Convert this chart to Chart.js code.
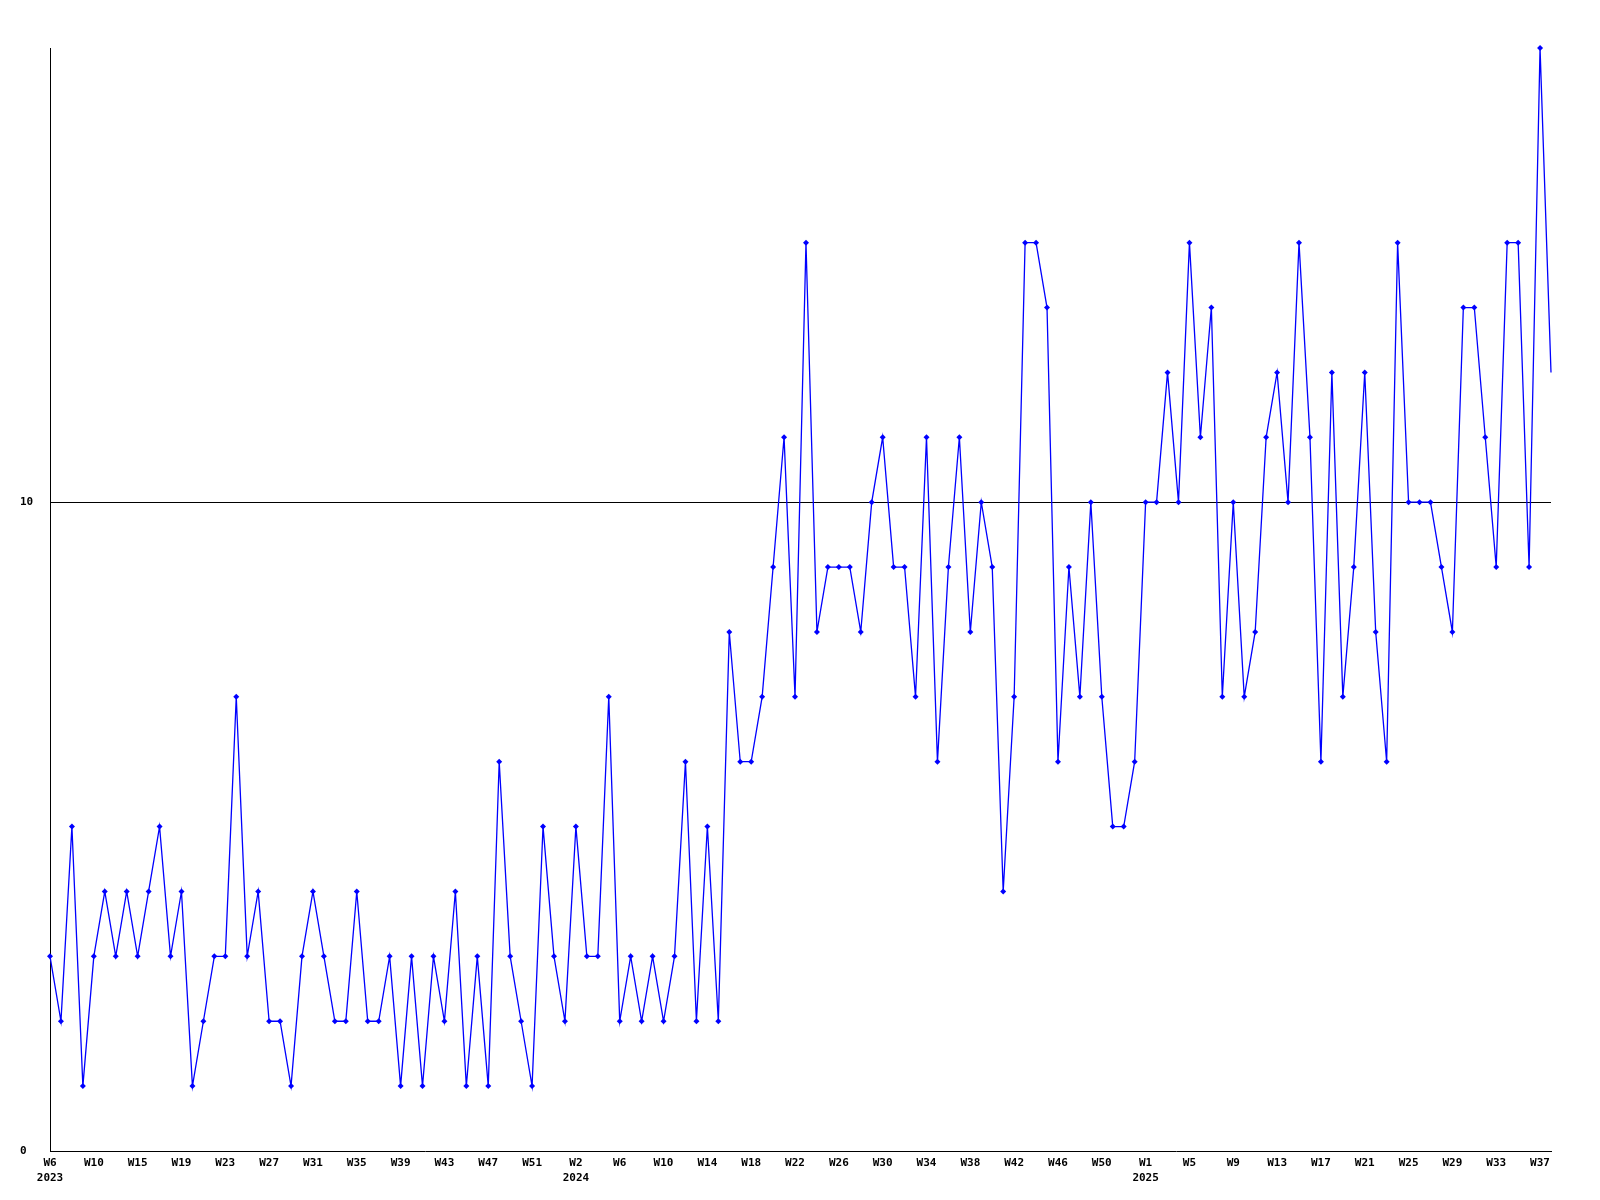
<!DOCTYPE html>
<html>
<head>
<meta charset="utf-8">
<script src="https://cdn.jsdelivr.net/npm/chart.js@4/dist/chart.umd.min.js"></script>
<style>
  html, body { margin: 0; padding: 0; background: #ffffff; }
  #wrap { width: 1600px; height: 1200px; }
</style>
</head>
<body>
<div id="wrap"><canvas id="c" width="1600" height="1200"></canvas></div>
<script>
// ---- data ----
const weeks2023 = ["W6","W7","W8","W9","W10","W12","W13","W14","W15","W16","W17","W18","W19","W20","W21","W22","W23","W24","W25","W26","W27","W28","W29","W30","W31","W32","W33","W34","W35","W36","W37","W38","W39","W40","W41","W42","W43","W44","W45","W46","W47","W48","W49","W50","W51","W52","W53"];
const weeks2024 = ["W1","W2","W3","W4","W5","W6","W7","W8","W9","W10","W11","W12","W13","W14","W15","W16","W17","W18","W19","W20","W21","W22","W23","W24","W25","W26","W27","W28","W29","W30","W31","W32","W33","W34","W35","W36","W37","W38","W39","W40","W41","W42","W43","W44","W45","W46","W47","W48","W49","W50","W51","W52","W53"];
const weeks2025 = ["W1","W2","W3","W4","W5","W6","W7","W8","W9","W10","W11","W12","W13","W14","W15","W16","W17","W18","W19","W20","W21","W22","W23","W24","W25","W26","W27","W28","W29","W30","W31","W32","W33","W34","W35","W36","W37","W38"];

const values2023 = [3,2,5,1,3,4,3,4,3,4, 5,3,4,1,2,3,3,7,3,4, 2,2,1,3,4,3,2,2,4,2, 2,3,1,3,1,3,2,4,1,3, 1,6,3,2,1,5,3];
const values2024 = [2,5,3, 3,7,2,3,2,3,2,3,6,2, 5,2,8,6,6,7,9,11,7,14, 8,9,9,9,8,10,11,9,9,7, 11,6,9,11,8,10,9,4,7,14, 14,13,6,9,7,10,7,5,5,6];
const values2025 = [10,10,12,10,14,11,13,7,10,7, 8,11,12,10,14,11,6,12,7,9, 12,8,6,14,10,10,10,9,8,13, 13,11,9,14,14,9,17,12];

const yTickValues = [0, 10];
const yMin = 0, yMax = 17;
const labelEvery = 4;

// ---- build ----
const labels = weeks2023.concat(weeks2024, weeks2025);
const years = weeks2023.map(() => 2023).concat(weeks2024.map(() => 2024), weeks2025.map(() => 2025));
const values = values2023.concat(values2024, values2025);

const FONT = { family: "'DejaVu Sans Mono', 'Liberation Mono', monospace", size: 11, weight: 'bold', lineHeight: 1.4 };

new Chart(document.getElementById('c'), {
  type: 'line',
  data: {
    labels: labels,
    datasets: [{
      data: values,
      borderColor: '#0000ff',
      backgroundColor: '#0000ff',
      borderWidth: 1.3,
      pointStyle: 'rectRot',
      pointRadius: (ctx) => ctx.dataIndex === values.length - 1 ? 0 : 3,
      pointBorderWidth: 0,
      pointBackgroundColor: '#0000ff',
      tension: 0,
      fill: false,
      clip: false
    }]
  },
  options: {
    responsive: false,
    devicePixelRatio: 1,
    animation: false,
    events: [],
    layout: { padding: { top: 48, right: 49, left: 20, bottom: 0 } },
    plugins: { legend: { display: false }, tooltip: { enabled: false }, title: { display: false } },
    scales: {
      x: {
        type: 'category',
        offset: false,
        grid: { display: false, drawTicks: false },
        border: { display: true, color: '#000000', width: 1 },
        ticks: {
          autoSkip: false,
          maxRotation: 0,
          minRotation: 0,
          padding: 4,
          color: '#000000',
          font: FONT,
          callback: function (value, index) {
            if (index % labelEvery !== 0) return null;
            const prev = index - labelEvery;
            if (prev < 0 || years[prev] !== years[index]) return [labels[index], String(years[index])];
            return labels[index];
          }
        },
        afterFit: (scale) => { scale.height = 49; }
      },
      y: {
        min: yMin,
        max: yMax,
        grid: {
          drawTicks: false,
          color: (ctx) => (ctx.tick && ctx.tick.value === 10) ? '#000000' : 'rgba(0,0,0,0)',
          lineWidth: 1
        },
        border: { display: true, color: '#000000', width: 1 },
        afterBuildTicks: (scale) => { scale.ticks = yTickValues.map(v => ({ value: v })); },
        ticks: {
          crossAlign: 'far',
          padding: 0,
          color: '#000000',
          font: FONT
        },
        afterFit: (scale) => { scale.width = 30; }
      }
    }
  }
});
</script>
</body>
</html>
